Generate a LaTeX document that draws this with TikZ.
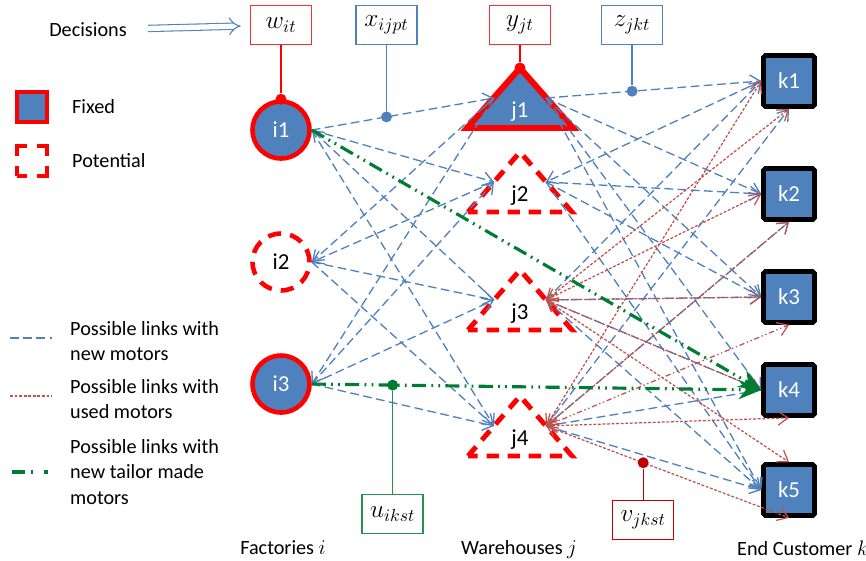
\documentclass[tikz,border=0pt]{standalone}
\usepackage{fontspec}
\setmainfont{Carlito}
\usetikzlibrary{arrows.meta}
\definecolor{mlblue}{RGB}{79,129,189}
\definecolor{mlred}{RGB}{255,0,0}
\definecolor{mlboxred}{RGB}{240,50,50}
\definecolor{mlrose}{RGB}{192,80,77}
\definecolor{mlgreen}{RGB}{0,125,50}
\definecolor{mlleaf}{RGB}{40,145,75}
\definecolor{mldark}{RGB}{192,0,0}

\begin{document}
\begin{tikzpicture}[x=0.2mm, y=-0.2mm,
    font=\fontsize{11.5}{14.7}\selectfont,
    factory/.style={circle, draw=mlred, line width=2.6pt, minimum size=11.4mm,
                    inner sep=0pt, font=\fontsize{13}{15}\selectfont},
    customer/.style={draw=black, line width=2.6pt, fill=mlblue, text=white,
                     minimum size=10.2mm, inner sep=0pt, rounded corners=1pt,
                     font=\fontsize{13}{15}\selectfont},
    potential/.style={draw=mlred, line width=2.8pt, dash pattern=on 7pt off 5pt},
    decbox/.style={draw=#1, line width=0.8pt, fill=white, minimum width=12.2mm,
                   minimum height=7.8mm, font=\fontsize{14}{16}\selectfont},
    dot/.style={circle, fill=#1, inner sep=0pt, minimum size=2.2mm},
    newlink/.style={mlblue, line width=0.75pt, dash pattern=on 5pt off 2.5pt,
                    -{Straight Barb[length=2mm,width=2.8mm]}},
    usedlink/.style={mlrose, line width=0.7pt, dash pattern=on 1.6pt off 1pt,
                     {Straight Barb[length=2mm,width=2.8mm]}-{Straight Barb[length=2mm,width=2.8mm]}},
    tailorlink/.style={mlgreen, line width=1.8pt,
                       dash pattern=on 8pt off 3pt on 1pt off 3pt on 1pt off 3pt,
                       -{Stealth[length=4.5mm,width=3.8mm]}}]
\useasboundingbox (0,0) rectangle (866,560);
% Legend
\node (dec) at (88,30) {Decisions};
\node[draw=mlred, line width=2.2pt, fill=mlblue, minimum size=6mm] (fixedkey) at (32,107) {};
\node[anchor=west] (fixedtxt) at (66,107) {Fixed};
\node[draw=mlred, line width=2.2pt, minimum size=6mm,
      dash pattern=on 11.07pt off 6pt, dash phase=5.5pt] (potkey) at (32,161) {};
\node[anchor=west] (pottxt) at (66,161) {Potential};
\coordinate (newa) at (10,338); \coordinate (newb) at (52,338);
\draw[newlink, -] (newa) -- (newb);
\node[anchor=west, align=left] (newtxt) at (64,341) {Possible links with\\new motors};
\coordinate (useda) at (10,396); \coordinate (usedb) at (52,396);
\draw[usedlink, -] (useda) -- (usedb);
\node[anchor=west, align=left] (usedtxt) at (64,399) {Possible links with\\used motors};
\coordinate (taila) at (12,472); \coordinate (tailb) at (48,472);
\draw[tailorlink, -, dash pattern=on 7.5pt off 3.5pt on 1pt off 6pt] (taila) -- (tailb);
\node[anchor=west, align=left] (tailtxt) at (64,472) {Possible links with\\new tailor made\\motors};
% Factories
\node[factory, fill=mlblue, text=white] (i1) at (281,130) {i1};
\node[factory, dash pattern=on 7.5pt off 5.2pt] (i2) at (281,262) {i2};
\node[factory, fill=mlblue, text=white] (i3) at (281,384) {i3};
% Warehouses
\foreach \n/\y in {1/128,2/212,3/330,4/456} {
  \coordinate (jb\n) at (520,\y);
  \coordinate (jt\n) at (520,\y-60);
  \coordinate (jw\n) at (494,\y-30);
  \coordinate (je\n) at (546,\y-30);
}
\draw[draw=mlred, line width=3.4pt, fill=mlblue] (467,128) -- (jt1) -- (573,128) -- cycle;
\node[text=white, font=\fontsize{13}{15}\selectfont] (jl1) at (520,112) {j1};
\foreach \n/\y in {2/212,3/330,4/456} {
  \draw[potential] (468,\y) -- (jt\n) -- (572,\y) -- cycle;
  \node[font=\fontsize{13}{15}\selectfont] (jl\n) at (520,\y-16) {j\n};
}
% End customers
\foreach \n/\y in {1/81,2/194,3/297,4/390,5/490}
  \node[customer] (k\n) at (789,\y) {k\n};
% Links factories - warehouses
\draw[newlink] (i1.east) -- coordinate[pos=0.41] (xpt) (jw1);
\foreach \a/\b in {i1.east/jw2, i1.east/jw4, i2.east/jw3, i2.east/jw4,
                   i3.east/jw2, i3.east/jw3, i3.east/jw4,
                   jw1/i2.east, jw1/i3.east, jw2/i2.east, jw3/i1.east}
  \draw[newlink] (\a) -- (\b);
% Links warehouses - end customers
\draw[newlink] (je1) -- coordinate[pos=0.40] (zpt) (k1.west);
\foreach \a/\b in {je1/k2.west, je1/k3.west, je1/k4.west, je1/k5.west,
                   k1.west/je2, je2/k2.west, je2/k3.west, je2/k5.west,
                   je3/k1.west, je3/k3.west, je3/k4.west, je3/k5.west,
                   je4/k1.south, je4/k2.south, k4.west/je4, je4/k5.west}
  \draw[newlink] (\a) -- (\b);
\foreach \a/\b in {je3/k1.south, je3/k2.west, je3/k3.west, je3/k4.west, je3/k5.north,
                   je4/k1.west, je4/k2.south, je4/k4.south}
  \draw[usedlink] (\a) -- (\b);
\draw[usedlink, dash pattern=on 3pt off 1.5pt on 0.8pt off 1.5pt on 0.8pt off 1.5pt] (je4) -- (k3.south);
\draw[usedlink] (je4) -- coordinate[pos=0.40] (vpt) (k5.south);
% Tailor made links
\draw[tailorlink] (i1.east) -- (k4.west);
\draw[tailorlink] (i3.east) -- coordinate[pos=0.18] (upt) (k4.west);
% Decisions
\coordinate (toprow) at (0,25);
\coordinate (urow) at (0,514);
\coordinate (vrow) at (0,520);
\node[decbox=mlboxred] (wbox) at (i1.north |- toprow) {$w_{it}$};
\node[decbox=mlblue] (xbox) at (xpt |- toprow) {$x_{ijpt}$};
\node[decbox=mlboxred] (ybox) at (jt1 |- toprow) {$y_{jt}$};
\node[decbox=mlblue] (zbox) at (zpt |- toprow) {$z_{jkt}$};
\node[decbox=mlleaf] (ubox) at (upt |- urow) {$u_{ikst}$};
\node[decbox=mldark] (vbox) at (vpt |- vrow) {$v_{jkst}$};
\node[dot=mlred] (wdot) at (i1.north) {};
\node[dot=mlblue] (xdot) at (xpt) {};
\node[dot=mlred] (ydot) at (jt1) {};
\node[dot=mlblue] (zdot) at (zpt) {};
\node[dot=mlgreen] (udot) at (upt) {};
\node[dot=mldark] (vdot) at (vpt) {};
\draw[mlred, line width=0.8pt] (wbox) -- (wdot);
\draw[mlblue, line width=0.8pt] (xbox) -- (xdot);
\draw[mlred, line width=0.8pt] (ybox) -- (ydot);
\draw[mlblue, line width=0.8pt] (zbox) -- (zdot);
\draw[mlleaf, line width=0.8pt] (ubox) -- (udot);
\draw[mldark, line width=0.8pt] (vbox) -- (vdot);
\draw[mlblue, line width=0.6pt, double=white, double distance=3pt, -{Implies},
      shorten <=3mm, shorten >=1.8mm] (dec) -- (wbox);
% Layer labels
\node (facl) at (283,548) {Factories $i$};
\node (whl) at (519,550) {Warehouses $j$};
\node[anchor=west] (cusl) at (731,548) {End Customer $k$};
\end{tikzpicture}
\end{document}
